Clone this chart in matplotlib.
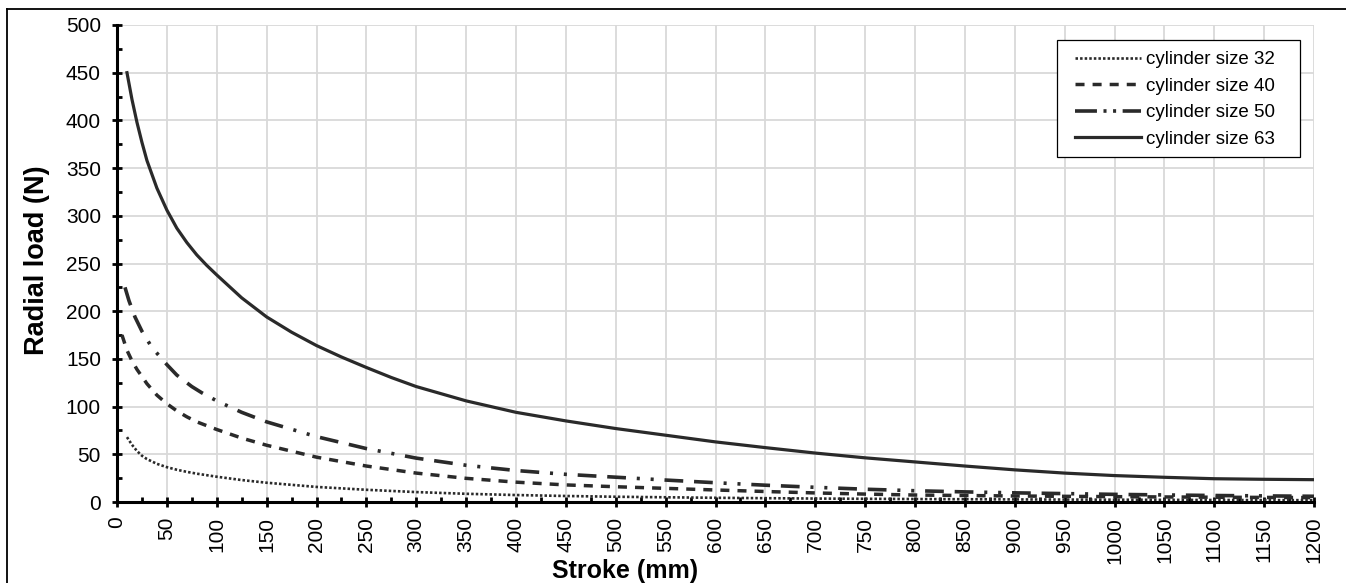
import matplotlib
matplotlib.use("Agg")
import matplotlib.pyplot as plt
from matplotlib.ticker import MultipleLocator
from matplotlib.lines import Line2D
from matplotlib.patches import Rectangle

plt.rcParams['font.family'] = ['Liberation Sans', 'DejaVu Sans']
plt.rcParams['lines.scale_dashes'] = False

# ---- data ----
stroke_32 = [10, 15, 20, 25, 30, 40, 50, 60, 70, 80, 100, 125, 150, 200, 250, 300, 350, 400,
             450, 500, 600, 700, 800, 900, 1000, 1100, 1200]
load_32 = [68, 60, 53.5, 48.5, 45, 40, 36.5, 33.8, 31.6, 29.7, 26.5, 23, 20.2, 15.8, 12.8, 10.4,
           8.6, 7.3, 6.3, 5.5, 4.4, 3.6, 3.1, 2.7, 2.4, 2.1, 1.9]

stroke_40 = [5, 10, 15, 20, 30, 40, 50, 60, 70, 80, 100, 125, 150, 200, 250, 300, 350, 400,
             450, 500, 550, 600, 650, 700, 750, 800, 900, 1000, 1100, 1200]
load_40 = [175, 159, 148, 139, 124, 112, 103, 95.5, 89.3, 84, 76, 67, 59.5, 47, 37.7, 30.3,
           24.8, 20.8, 17.9, 16, 14.3, 12.6, 11, 9.5, 8.3, 7.3, 6.3, 5.6, 5, 4.6]

stroke_50 = [8, 12, 18, 25, 35, 50, 60, 75, 85, 100, 125, 150, 200, 250, 300, 350, 400, 450,
             500, 550, 600, 650, 700, 750, 800, 850, 900, 950, 1000, 1100, 1200]
load_50 = [225, 211, 194, 179, 162, 144, 133, 121, 114.5, 106, 94, 84, 68.5, 56, 46, 38.5, 33, 29,
           26, 23, 20.2, 17.6, 15.4, 13.4, 11.8, 10.6, 9.6, 8.8, 8, 6.8, 6]

stroke_63 = [10, 15, 20, 25, 30, 40, 50, 60, 70, 80, 90, 100, 125, 150, 175, 200, 225, 250, 275,
             300, 350, 400, 450, 500, 550, 600, 650, 700, 750, 800, 850, 900, 950, 1000, 1050,
             1100, 1150, 1200]
load_63 = [450, 422, 398, 377, 358, 329, 306, 287, 272, 259, 248, 238, 214, 194, 178, 164, 152,
           141, 130.5, 121, 106, 94, 85, 77, 70, 63, 57, 51.3, 46.3, 42, 37.7, 33.7, 30.3, 27.7,
           25.9, 24.4, 23.8, 23.4]

labels = ['cylinder size 32', 'cylinder size 40', 'cylinder size 50', 'cylinder size 63']
x_label = 'Stroke (mm)'
y_label = 'Radial load (N)'

# ---- figure ----
W, H = 1346, 583
fig = plt.figure(figsize=(W / 100, H / 100), dpi=100)
ax = fig.add_axes([117 / W, 1 - 502 / H, (1314 - 117) / W, (502 - 25) / H])

col = '#2a2a2a'
s_dot = dict(color=col, lw=1.9, linestyle=(0, (1.8, 1.5)))
s_dash = dict(color=col, lw=2.5, linestyle=(0, (6.5, 5.8)))
s_dd_plot = dict(color=col, lw=2.6, linestyle=(0, (13.5, 7.8, 13.5, 7.8, 2.2, 7.8, 2.2, 7.8)))
s_dd_leg = dict(color=col, lw=2.6, linestyle=(0, (15.8, 4.7, 2.2, 4.7, 2.2, 4.7)))
s_solid = dict(color=col, lw=2.3, linestyle='-')

ax.plot(stroke_32, load_32, **s_dot)
ax.plot(stroke_40, load_40, **s_dash)
ax.plot(stroke_50, load_50, **s_dd_plot)
ax.plot(stroke_63, load_63, **s_solid)

ax.set_xlim(0, 1200)
ax.set_ylim(0, 500)
ax.xaxis.set_major_locator(MultipleLocator(50))
ax.xaxis.set_minor_locator(MultipleLocator(25))
ax.yaxis.set_major_locator(MultipleLocator(50))
ax.yaxis.set_minor_locator(MultipleLocator(25))

ax.grid(True, which='major', color='#d9d9d9', linewidth=1.3)
ax.set_axisbelow(True)
for s in ['top', 'right']:
    ax.spines[s].set_visible(False)
for s in ['left', 'bottom']:
    ax.spines[s].set_linewidth(2.2)
    ax.spines[s].set_color('black')

ax.tick_params(axis='both', which='major', direction='inout', length=7.2, width=2,
               labelsize=15, colors='black')
ax.tick_params(axis='both', which='minor', direction='in', length=3.6, width=2)
ax.tick_params(axis='y', which='major', pad=8)
ax.tick_params(axis='x', which='major', pad=7, labelrotation=90)

fig.text(37.5 / W, 1 - 260 / H, y_label, rotation=90, fontsize=19.5, fontweight='bold',
         ha='center', va='center')
fig.text(625 / W, 1 - 571 / H, x_label, fontsize=18, fontweight='bold',
         ha='center', va='center')

# legend
handles = [Line2D([], [], **s_dot), Line2D([], [], **s_dash),
           Line2D([], [], **s_dd_leg), Line2D([], [], **s_solid)]
leg = fig.legend(handles, labels, loc='upper left', bbox_to_anchor=(1075 / W, 1 - 51 / H),
                 bbox_transform=fig.transFigure, frameon=False, fontsize=13.5,
                 handlelength=3.5, handletextpad=0.3, labelspacing=0.5, borderpad=0,
                 borderaxespad=0)
fig.add_artist(Rectangle((1057 / W, 1 - 157 / H), (1300 - 1057) / W, (157 - 40) / H,
                         transform=fig.transFigure, facecolor='white', edgecolor='black',
                         linewidth=0.9, zorder=2))
leg.set_zorder(3)

# outer frame
fig.add_artist(Line2D([7 / W, 7 / W], [0, 1 - 9 / H], transform=fig.transFigure,
                      color='black', lw=1.3))
fig.add_artist(Line2D([7 / W, 1], [1 - 9 / H, 1 - 9 / H], transform=fig.transFigure,
                      color='black', lw=1.3))

fig.savefig('out.png', dpi=100)
